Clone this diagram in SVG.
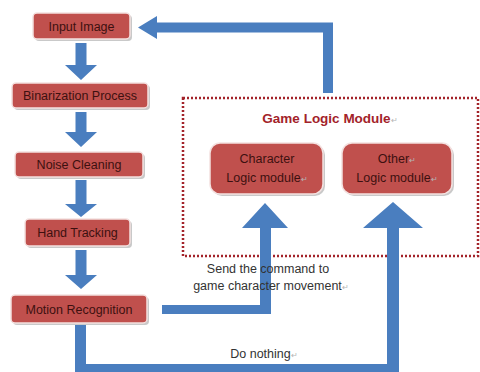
<svg xmlns="http://www.w3.org/2000/svg" width="480" height="372" viewBox="0 0 480 372">
<style>
.box{fill:#c0504d;stroke:#f4e1e0;stroke-width:1.5}
.sh{fill:#c9c9c9}
.bt{font-family:"Liberation Sans",Arial,sans-serif;font-size:12.5px;fill:#3d1010;text-anchor:middle}
.lt{font-family:"Liberation Sans",Arial,sans-serif;font-size:12.5px;fill:#333;text-anchor:middle}
.ret{fill:#b5b5b5;font-size:8px}
.arr{fill:#4a7ebf}
</style>
<rect x="0" y="0" width="480" height="372" fill="#ffffff"/>
<rect id="group-box" x="183" y="98" width="295" height="158" fill="none" stroke="#a3232a" stroke-width="2.5" stroke-dasharray="2 2"/>
<g id="connectors">
<polygon class="arr" points="75.5,43 86.5,43 86.5,65 97,65 81,80 65,65 75.5,65"/>
<polygon class="arr" points="75.5,112 86.5,112 86.5,132 97,132 81,147 65,132 75.5,132"/>
<polygon class="arr" points="75.5,180 86.5,180 86.5,204 97,204 81,217 65,204 75.5,204"/>
<polygon class="arr" points="75.5,250 86.5,250 86.5,275 97,275 81,289 65,275 75.5,275"/>
<polygon class="arr" points="138,27.5 157,16 157,22.5 333,22.5 333,93 323,93 323,32.5 157,32.5 157,39"/>
<polygon class="arr" points="265,203 288,228 271,228 271,314 162,314 162,305 260,305 260,228 242,228"/>
<polygon class="arr" points="393,202 423,228 399,228 399,375 75,375 75,325 86,325 86,364 387,364 387,228 363,228"/>
</g>
<g id="input-image">
<rect class="sh" x="35" y="15" width="97" height="26" rx="4"/>
<rect class="box" x="33" y="13" width="97" height="26" rx="4"/>
<text class="bt" x="81.5" y="30.5">Input Image</text>
</g>
<g id="binarization">
<rect class="sh" x="14" y="85" width="136" height="25" rx="4"/>
<rect class="box" x="12" y="83" width="136" height="25" rx="4"/>
<text class="bt" x="80" y="100">Binarization Process</text>
</g>
<g id="noise-cleaning">
<rect class="sh" x="17" y="154" width="128" height="25" rx="4"/>
<rect class="box" x="15" y="152" width="128" height="25" rx="4"/>
<text class="bt" x="79" y="169">Noise Cleaning</text>
</g>
<g id="hand-tracking">
<rect class="sh" x="27" y="221" width="105" height="27" rx="4"/>
<rect class="box" x="25" y="219" width="105" height="27" rx="4"/>
<text class="bt" x="77.5" y="237">Hand Tracking</text>
</g>
<g id="motion-recognition">
<rect class="sh" x="13" y="297" width="136" height="28" rx="4"/>
<rect class="box" x="11" y="295" width="136" height="28" rx="4"/>
<text class="bt" x="79" y="313.5">Motion Recognition</text>
</g>
<g id="game-logic-module">
<text x="330" y="123" font-family="'Liberation Sans',Arial,sans-serif" font-size="13.5" font-weight="bold" fill="#a3232a" text-anchor="middle">Game Logic Module<tspan class="ret" font-weight="normal">↵</tspan></text>
</g>
<g id="character-logic">
<rect class="sh" x="212" y="145" width="113" height="51" rx="10"/>
<rect class="box" x="210" y="143" width="113" height="51" rx="10"/>
<text class="bt" x="267" y="163">Character</text>
<text class="bt" x="267" y="182">Logic module<tspan class="ret">↵</tspan></text>
</g>
<g id="other-logic">
<rect class="sh" x="344" y="145" width="110" height="51" rx="10"/>
<rect class="box" x="342" y="143" width="110" height="51" rx="10"/>
<text class="bt" x="397" y="163">Other<tspan class="ret">↵</tspan></text>
<text class="bt" x="397" y="182">Logic module<tspan class="ret">↵</tspan></text>
</g>
<g id="labels">
<text class="lt" x="268" y="273">Send the command  to</text>
<text class="lt" x="271" y="290">game character movement<tspan class="ret">↵</tspan></text>
<text class="lt" x="264" y="358">Do nothing<tspan class="ret">↵</tspan></text>
</g>
</svg>
